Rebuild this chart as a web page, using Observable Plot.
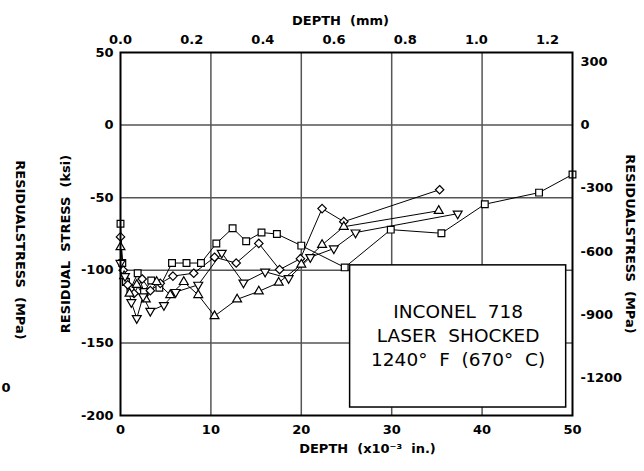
<!DOCTYPE html>
<html><head><meta charset="utf-8">
<script src="https://cdn.jsdelivr.net/npm/d3@7"></script>
<script src="https://cdn.jsdelivr.net/npm/@observablehq/plot@0.6"></script>
<style>body{margin:0;background:#fff} svg{font-family:"DejaVu Sans"}</style>
</head><body><div id="chart"></div>
<script>
// Depth in 10^-3 in., residual stress in ksi
const sqX = [0, 0.2, 0.6, 1.1, 1.9, 2.6, 3.4, 4.3, 5.7, 7.3, 8.9, 10.6, 12.4, 13.9, 15.6, 17.3, 20.0, 24.8, 29.9, 35.5, 40.3, 46.3, 50.0];
const sqY = [-68, -95, -108, -113, -102, -115, -107, -112, -95, -95, -95, -81.5, -71, -80, -74, -75, -83, -98, -72, -74.5, -54.5, -46.5, -34];
const dmX = [0, 0.3, 0.8, 1.5, 2.4, 3.3, 4.4, 5.8, 8.1, 10.4, 12.8, 15.3, 17.6, 19.9, 22.3, 24.7, 35.3];
const dmY = [-77, -100, -110, -116, -106, -114, -109, -104, -102, -91, -95, -81.5, -99.5, -92, -57.5, -66.5, -44.5];
const tuX = [0, 0.4, 1.0, 1.8, 2.8, 4.0, 5.5, 7.0, 8.6, 10.4, 12.9, 15.3, 17.5, 20.0, 22.3, 24.7, 35.2];
const tuY = [-84, -104, -116, -110, -120, -108, -117, -108, -117, -131.5, -120, -114.5, -108.5, -96, -82.5, -70, -59];
const tdX = [0, 0.5, 1.2, 1.8, 2.5, 3.3, 4.8, 6.1, 8.6, 11.2, 13.6, 16.0, 18.6, 21.0, 23.6, 26.0, 37.3];
const tdY = [-95, -104, -122, -133, -118, -128, -124, -115, -110, -88, -108.5, -101, -105.5, -91, -85, -74, -61];

const xTicks = [0, 10, 20, 30, 40, 50];
const yTicks = [50, 0, -50, -100, -150, -200];
const mmTicks = [0.0, 0.2, 0.4, 0.6, 0.8, 1.0, 1.2];
const mpaTicks = [300, 0, -300, -600, -900, -1200];
const boxText = ["INCONEL\u00a0 718", "LASER\u00a0 SHOCKED", "1240°\u00a0 F\u00a0 (670°\u00a0 C)"];

const MM_PER_MIL = 0.0254, MPA_PER_KSI = 6.895;
const toRows = (xs, ys, s) => xs.map((x, i) => ({x, y: ys[i], s}));
const sq = toRows(sqX, sqY, "sq"), dm = toRows(dmX, dmY, "dm"), tu = toRows(tuX, tuY, "tu"), td = toRows(tdX, tdY, "td");
const all = [...sq, ...dm, ...tu, ...td];

const bold = {fontWeight: "bold", fontSize: 13, fill: "#000"};
const chart = Plot.plot({
  width: 644, height: 471,
  marginLeft: 120, marginRight: 72, marginTop: 52, marginBottom: 56,
  style: {fontFamily: "DejaVu Sans", fontSize: "13px", color: "#000", background: "#fff"},
  x: {domain: [0, 50]},
  y: {domain: [-200, 50]},
  marks: [
    Plot.gridX([10, 20, 30, 40], {stroke: "#555", strokeOpacity: 1, strokeWidth: 1.5}),
    Plot.gridY([0, -50, -100, -150], {stroke: "#555", strokeOpacity: 1, strokeWidth: 1.5}),
    Plot.line(all, {x: "x", y: "y", z: "s", stroke: "#000", strokeWidth: 1}),
    Plot.rect([0], {x1: 25.4, x2: 49.3, y1: -96.6, y2: -194.5, fill: "#fff", stroke: "#000", strokeWidth: 1.5}),
    Plot.text([boxText.join("\n")], {x: 37.35, y: -144, text: d => d, fontSize: 18.5, lineHeight: 1.3, fill: "#000"}),
    Plot.dot(sq, {x: "x", y: "y", symbol: "square", r: 3.8, fill: "#fff", stroke: "#000", strokeWidth: 1.2}),
    Plot.dot(dm, {x: "x", y: "y", symbol: "diamond2", r: 3.8, fill: "#fff", stroke: "#000", strokeWidth: 1.2}),
    Plot.dot(tu, {x: "x", y: "y", symbol: "triangle", r: 3.3, fill: "#fff", stroke: "#000", strokeWidth: 1.2}),
    Plot.dot(td, {x: "x", y: "y", symbol: "triangle", rotate: 180, r: 3.3, fill: "#fff", stroke: "#000", strokeWidth: 1.2}),
    Plot.frame({stroke: "#000", strokeWidth: 2}),
    Plot.axisX({anchor: "bottom", ticks: xTicks, tickSize: 0, tickPadding: 9, tickFormat: d => String(d), label: null, ...bold}),
    Plot.axisX({anchor: "top", ticks: mmTicks.map(m => m / MM_PER_MIL), tickSize: 0, tickPadding: 9,
      tickFormat: d => (d * MM_PER_MIL).toFixed(1), label: null, ...bold}),
    Plot.axisY({anchor: "left", ticks: yTicks, tickSize: 0, tickPadding: 7, tickFormat: d => String(d), label: null, ...bold}),
    Plot.axisY({anchor: "right", ticks: mpaTicks.map(v => v / MPA_PER_KSI), tickSize: 0, tickPadding: 8,
      tickFormat: d => String(Math.round(d * MPA_PER_KSI)), label: null, ...bold}),
    Plot.text(["DEPTH\u00a0 (mm)"], {frameAnchor: "top", dx: -6, dy: -37, text: d => d, ...bold}),
    Plot.text(["DEPTH\u00a0\u00a0(x10\u207b\u00b3\u00a0\u00a0in.)"], {frameAnchor: "bottom", dx: 21, dy: 37, text: d => d, ...bold}),
    Plot.text(["RESIDUAL\u00a0 STRESS\u00a0 (ksi)"], {frameAnchor: "left", textAnchor: "middle", dx: -55, dy: 10, rotate: -90, text: d => d, ...bold}),
    Plot.text(["RESIDUALSTRESS\u00a0 (MPa)"], {frameAnchor: "left", textAnchor: "middle", dx: -100, dy: 16, rotate: 90, text: d => d, ...bold}),
    Plot.text(["RESIDUALSTRESS\u00a0 (MPa)"], {frameAnchor: "right", textAnchor: "middle", dx: 58, dy: 10, rotate: 90, text: d => d, ...bold}),
    Plot.text(["0"], {frameAnchor: "left", textAnchor: "start", dx: -119, dy: 154, text: d => d, ...bold})
  ]
});
document.getElementById("chart").append(chart);
</script>
</body></html>
